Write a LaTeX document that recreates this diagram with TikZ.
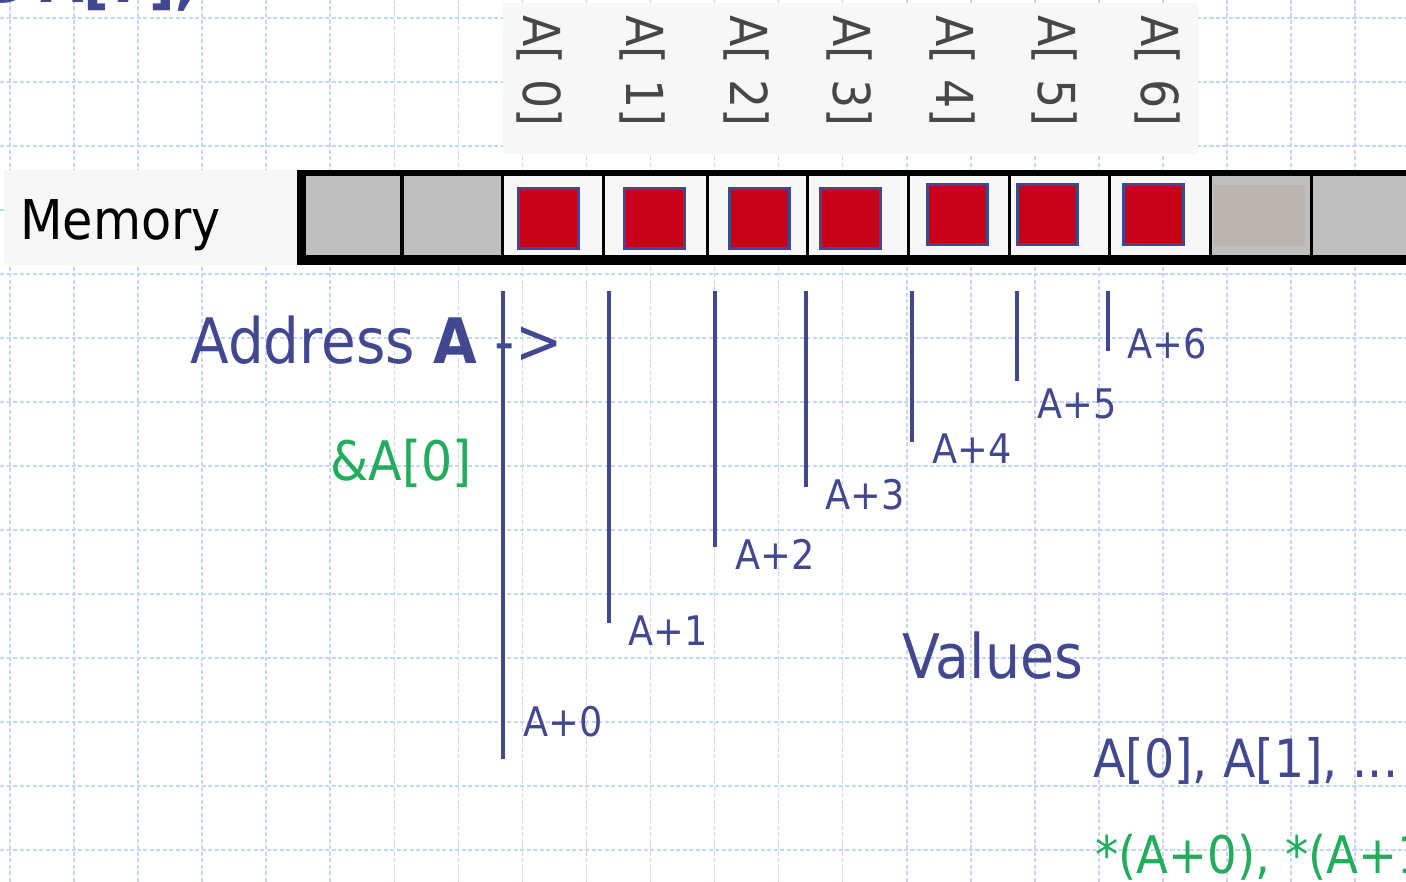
\documentclass[tikz,border=0pt]{standalone}
\usepackage{fontspec}
\setmainfont{DejaVu Sans}[FakeStretch=0.9]
\usepackage{xcolor}
\usetikzlibrary{positioning}

\definecolor{addrblue}{RGB}{66,72,144}
\definecolor{ptrgreen}{RGB}{34,172,92}
\definecolor{cellred}{RGB}{200,2,22}
\definecolor{cellgray}{RGB}{191,191,191}
\definecolor{paper}{RGB}{247,247,247}
\definecolor{gridblue}{RGB}{200,212,246}
\definecolor{stalegray}{RGB}{188,180,176}

\newcommand\pxsize[1]{\fontsize{#1pt}{#1pt}\selectfont}

\tikzset{
  gridline/.style={draw=gridblue,line width=0.9pt,dash pattern=on 2.5pt off 1.2pt},
  caption/.style={text=addrblue,inner sep=0pt,anchor=base west},
  ptrtext/.style={text=ptrgreen,inner sep=0pt,anchor=base west},
  offs/.style={caption,font=\pxsize{23.2}},
  idx/.style={text=black!72,inner sep=0pt,rotate=-90,font=\pxsize{29}},
  elem/.style={draw=addrblue,line width=1.5pt,fill=cellred,inner sep=0pt,minimum size=1.2cm},
  addrline/.style={draw=addrblue,line width=1.9pt}
}

\begin{document}
\begin{tikzpicture}[x=0.02cm,y=-0.02cm]
 \useasboundingbox (0,0) rectangle (1406,882);
 \clip (0,0) rectangle (1406,882);
 \fill[white] (0,0) rectangle (1406,882);
 % squared paper
 \foreach \g in {0,...,21} \draw[gridline] ({10+64.05*\g},0) -- ({10+64.05*\g},882);
 \foreach \g in {0,...,13} \draw[gridline] (0,{18+64*\g}) -- (1406,{18+64*\g});
 % title, cut off at the top
 \node[caption,font=\pxsize{35.7}\bfseries] (title) at (-18,3) {e A[7];};
 % index labels
 \fill[paper] (503,3) rectangle (1198,154);
 \foreach \i/\cx in {0/539,1/642,2/746,3/849,4/952,5/1054,6/1157}
   \node[idx] (idx\i) at (\cx,71) {A[ \i]};
 % memory strip
 \fill[paper] (4,170) rectangle (297,265);
 \node[anchor=base west,inner sep=0pt,font=\pxsize{31.2}] (mem) at (20,239) {Memory};
 \fill[black] (297,170) rectangle (1406,265);
 \foreach \l/\r/\c in {306/400/cellgray,404/501/cellgray,504/602/paper,605/706/paper,
                       709/806/paper,809/907/paper,910/1008/paper,1011/1108/paper,
                       1111/1209/paper,1212/1310/cellgray,1313/1406/cellgray}
   \fill[\c] (\l,176) rectangle (\r,255);
 \fill[stalegray] (1214,185) rectangle (1305,246);
 % array elements
 \foreach \i/\x/\y in {0/517/187,1/623/187,2/728/187,3/819/187,4/926/183,5/1016/183,6/1122/183}
   \node[elem] (el\i) at (\x+31.5,\y+31.5) {};
 % address lines
 \foreach \i/\x/\y/\lx/\ly in {0/503/759/523/736,1/609/623/628/645,2/715/547/735/569,
                               3/806/487/825/509,4/912/442/932/463,5/1017/381/1037/418,
                               6/1108/351/1127/358} {
   \coordinate (top\i) at (\x,291);
   \coordinate (bot\i) at (\x,\y);
   \draw[addrline] (top\i) -- (bot\i);
   \node[offs] (off\i) at (\lx,\ly) {A+\i};
 }
 % captions
 \node[caption,font=\pxsize{35.7}] (address) at (190,363) {Address \textbf{A} ->};
 \node[ptrtext,font=\pxsize{31}] (amp) at (330,480) {\&A[0]};
 \node[caption,font=\pxsize{35}] (values) at (902,678) {Values};
 \node[caption,font=\pxsize{30}] (subs) at (1093,777) {A[0], A[1], ...};
 \node[ptrtext,font=\pxsize{29.5}] (deref) at (1095,873) {*(A+0), *(A+1), ...};
\end{tikzpicture}
\end{document}
